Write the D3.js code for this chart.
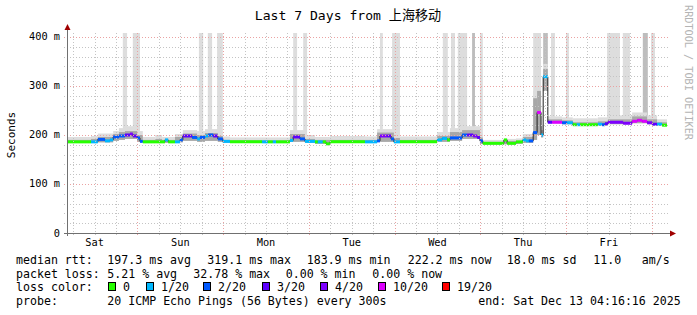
<!doctype html>
<html>
<head>
<meta charset="utf-8">
<title>SmokePing :: Last 7 Days</title>
<script src="https://d3js.org/d3.v7.min.js"></script>
<style>
  body { margin: 0; background: #fff; }
  svg { display: block; }
  text { font-family: "DejaVu Sans Mono", "Noto Sans CJK SC", monospace; fill: #000; }
</style>
</head>
<body>
<svg id="chart" width="697" height="315"></svg>
<script>
// hours counted from Sat 2025-12-06 00:00, graph ends Sat Dec 13 04:16:16
const startHour = 4.2711, endHour = 172.2711;

// median rtt (ms) and lost pings (of 20), one entry per step of the graph
const medStart = [4.3,11.0,12.9,14.9,16.3,17.2,18.8,20.5,21.9,22.7,
  23.9,24.7,25.5,31.7,32.6,34.5,35.9,36.7,39.3,40.7,
  41.5,42.9,43.8,45.2,46.5,47.9,49.9,58.9,60.5,61.9,
  62.8,66.7,67.6,69.5,70.9,73.7,74.5,75.9,76.8,77.9,
  87.7,91.1,91.9,93.9,95.0,95.8,97.5,107.9,109.3,110.7,
  111.5,114.9,116.3,118.0,119.1,119.9,120.7,126.6,127.5,130.0,
  131.9,132.8,133.6,134.8,135.9,137.0,137.6,138.9,140.1,142.9,
  144.3,145.9,147.0,147.9,152.9,154.1,154.9,155.7,160.0,162.5,
  163.9,165.3,166.7,168.1,169.5,170.9];
const medValue = [186,186,191,188,190,196,198,200,202,198,
  194,187,186,190,186,186,190,198,195,192,
  195,198,200,198,192,187,186,186,186,186,
  186,189,196,192,187,186,186,186,182,186,
  186,188,198,198,192,186,186,190,193,190,
  194,200,200,198,195,188,183,190,183,186,
  190,188,188,205,246,200,319,226,226,225,
  225,221,221,221,222,221,223,226,224,228,
  230,228,225,222,222,220];
const medLoss = [0,1,2,1,1,2,2,3,4,3,
  2,2,0,1,0,1,2,3,2,1,
  2,1,2,3,2,1,0,1,0,1,
  0,1,3,2,1,0,1,0,0,0,
  1,2,4,3,2,1,0,1,1,0,
  2,2,3,4,3,2,0,0,0,0,
  1,1,2,2,10,1,1,3,10,2,
  1,0,1,0,1,2,3,4,4,10,
  10,10,4,3,1,0];

// smoke (ms): bottom, inner band top, outer band top
const smokeStart = [4.3,11.0,12.9,17.2,18.8,20.5,23.9,25.5,29.0,30.9,
  34.5,36.7,40.7,42.9,46.5,47.9,49.9,66.7,70.9,73.7,
  77.9,87.7,91.1,95.8,97.5,107.9,111.5,114.9,119.9,120.7,
  126.6,130.0,131.9,134.8,135.9,137.0,137.6,138.9,142.9,145.9,
  152.9,155.7,162.5,166.7,169.5];
const smokeLo = [184,184,185,188,190,192,186,184,184,184,
  185,188,186,188,186,184,184,186,184,182,
  184,184,186,184,184,186,188,192,182,181,
  181,182,184,190,200,195,290,224,222,219,
  219,222,224,222,219];
const smokeMid = [190,192,196,202,206,208,200,190,192,190,
  196,203,200,204,198,190,189,202,192,190,
  190,190,205,194,190,198,206,210,195,186,
  188,188,196,275,290,210,335,232,230,226,
  228,232,238,232,226];
const smokeHi = [196,198,203,208,214,218,208,196,200,196,
  202,210,208,212,206,197,195,210,200,196,
  198,197,212,202,197,206,214,218,203,190,
  192,193,202,290,300,220,345,238,236,234,
  236,240,246,240,232];

// single very slow pings that run off the top of the graph
const spikeStart = [19.9,22.7,41.2,43.7,46.3,67.6,70.4,91.9,95.3,109.5,111.8,113.7,117.7,119.9,134.8,137.6,139.8,144.0,155.5,159.9,165.5,167.8];
const spikeEnd   = [21.1,24.7,42.4,44.9,47.9,68.7,71.5,92.7,97.5,110.9,112.9,116.3,118.5,120.7,137.0,138.9,140.9,144.8,159.1,161.9,166.9,168.9];
const spikeBase  = [205,200,205,205,200,205,195,205,200,200,205,210,210,195,200,340,230,230,232,232,232,232];
const spikeDark  = [0,0,0,0,0,0,0,0,0,0,0,0,1,0,0,1,0,0,0,0,1,0];

const dayLabels = ["Sat","Sun","Mon","Tue","Wed","Thu","Fri"];
const yTicks = [0,100,200,300,400];
const yTickLabels = ["0","100 m","200 m","300 m","400 m"];

const lossLevels = [0,1,2,3,4,10,19];
const lossLabels = ["0","1/20","2/20","3/20","4/20","10/20","19/20"];
const lossColors = ["#26ff00","#00b8ff","#0059ff","#5e00ff","#7e00ff","#dd00ff","#ff0000"];
const lossBoxX = [108,146,203,262,320,378,442];

const legendRtt  = [["median rtt:",16],["197.3 ms avg",107.3],["319.1 ms max",207.3],["183.9 ms min",306.7],["222.2 ms now",407.7],["18.0 ms sd",506.7],["11.0",593.3],["am/s",641.7]];
const legendLoss = [["packet loss:",16],["5.21 % avg",107.3],["32.78 % max",193.3],["0.00 % min",285.7],["0.00 % now",372.3]];
const legendProbe = [["probe:",16],["20 ICMP Echo Pings (56 Bytes) every 300s",107.3],["end: Sat Dec 13 04:16:16 2025",478.3]];

const pLeft = 67, pRight = 667, pTop = 33, pBottom = 233;
const x = d3.scaleLinear().domain([startHour, endHour]).range([pLeft, pRight]);
const y = d3.scaleLinear().domain([0, 408.16]).range([pBottom, pTop]);

const svg = d3.select("#chart");
svg.append("rect").attr("width", 697).attr("height", 315).attr("fill", "#fff");

svg.append("defs").append("clipPath").attr("id", "clip")
  .append("rect").attr("x", pLeft).attr("y", pTop).attr("width", pRight - pLeft).attr("height", pBottom - pTop);
const area = svg.append("g").attr("clip-path", "url(#clip)");

function segEnd(starts, i) { return i + 1 < starts.length ? starts[i + 1] : endHour; }

// tall spikes
area.selectAll("rect.spike").data(spikeStart).enter().append("rect")
  .attr("x", (d) => x(d)).attr("width", (d, i) => x(spikeEnd[i]) - x(d))
  .attr("y", pTop).attr("height", (d, i) => y(spikeBase[i]) - pTop)
  .attr("fill", (d, i) => spikeDark[i] ? "#bdbdbd" : "#dddddd");

// smoke
area.selectAll("rect.smoke").data(smokeStart).enter().append("rect")
  .attr("x", (d) => x(d)).attr("width", (d, i) => x(segEnd(smokeStart, i)) - x(d))
  .attr("y", (d, i) => y(smokeHi[i])).attr("height", (d, i) => y(smokeLo[i]) - y(smokeHi[i]))
  .attr("fill", "#dddddd");
area.selectAll("rect.smokemid").data(smokeStart).enter().append("rect")
  .attr("x", (d) => x(d)).attr("width", (d, i) => x(segEnd(smokeStart, i)) - x(d))
  .attr("y", (d, i) => y(smokeMid[i])).attr("height", (d, i) => y(smokeLo[i]) - y(smokeMid[i]))
  .attr("fill", "#a8a8a8");

// grid
const grid = svg.append("g").attr("shape-rendering", "crispEdges");
const hMinor = d3.range(20, 408, 20);
grid.selectAll("line.h").data(hMinor).enter().append("line")
  .attr("x1", pLeft - 3).attr("x2", pRight + 2)
  .attr("y1", (d) => Math.round(y(d)) + 0.5).attr("y2", (d) => Math.round(y(d)) + 0.5)
  .attr("stroke", (d) => d % 100 === 0 ? "#eaa2a2" : "#c4c4c4")
  .attr("stroke-dasharray", "1,2");
const vLines = d3.range(6, 172, 6).filter((h) => h > startHour);
grid.selectAll("line.v").data(vLines).enter().append("line")
  .attr("x1", (d) => Math.round(x(d)) + 0.5).attr("x2", (d) => Math.round(x(d)) + 0.5)
  .attr("y1", pTop).attr("y2", pBottom + 3)
  .attr("stroke", (d) => d % 24 === 0 ? "#eaa2a2" : "#c4c4c4")
  .attr("stroke-dasharray", "1,2");

// median line
const lossColor = (l) => lossColors[d3.bisectRight(lossLevels, l) - 1];
const medPts = medStart.map((s, i) => [s, medValue[i]]).concat([[endHour, medValue[medValue.length - 1]]]);
area.append("path")
  .attr("d", d3.line().x((d) => x(d[0])).y((d) => y(d[1])).curve(d3.curveStepAfter)(medPts))
  .attr("fill", "none").attr("stroke", "#202020").attr("stroke-width", 1);
area.selectAll("line.med").data(medStart).enter().append("line")
  .attr("x1", (d) => x(d)).attr("x2", (d, i) => x(segEnd(medStart, i)))
  .attr("y1", (d, i) => y(medValue[i])).attr("y2", (d, i) => y(medValue[i]))
  .attr("stroke", (d, i) => lossColor(medLoss[i])).attr("stroke-width", 3);

// axes
const axis = svg.append("g").attr("shape-rendering", "crispEdges");
axis.append("line").attr("x1", pLeft + 0.5).attr("x2", pLeft + 0.5).attr("y1", pBottom + 3).attr("y2", pTop - 4).attr("stroke", "#707070");
axis.append("line").attr("x1", pLeft - 3).attr("x2", pRight + 4).attr("y1", pBottom + 0.5).attr("y2", pBottom + 0.5).attr("stroke", "#707070");
svg.append("path").attr("d", `M${pLeft - 2.5},${pTop - 3}L${pLeft + 3.5},${pTop - 3}L${pLeft + 0.5},${pTop - 9}Z`).attr("fill", "#a00000");
svg.append("path").attr("d", `M${pRight + 3},${pBottom - 2.5}L${pRight + 3},${pBottom + 3.5}L${pRight + 9},${pBottom + 0.5}Z`).attr("fill", "#a00000");

svg.selectAll("text.ytick").data(yTicks).enter().append("text")
  .attr("x", 60).attr("y", (d) => y(d) + 3.5).attr("text-anchor", "end")
  .style("font-size", "10.3px").text((d, i) => yTickLabels[i]);
svg.selectAll("text.day").data(dayLabels).enter().append("text")
  .attr("x", (d, i) => x(i * 24 + 12)).attr("y", 245.5).attr("text-anchor", "middle")
  .style("font-size", "10.3px").text((d) => d);

svg.append("text").attr("transform", "translate(15,135) rotate(-90)").attr("text-anchor", "middle")
  .style("font-size", "11px").text("Seconds");
svg.append("text").attr("x", 348).attr("y", 19.5).attr("text-anchor", "middle")
  .style("font-size", "13.1px").text("Last 7 Days from 上海移动");
svg.append("text").attr("transform", "translate(685,5) rotate(90)")
  .style("font-size", "10.2px").style("fill", "#b4b4b4").text("RRDTOOL / TOBI OETIKER");

// legend
const leg = svg.append("g").style("font-size", "11.6px").attr("xml:space", "preserve");
function legendLine(items, yy) {
  leg.selectAll(null).data(items).enter().append("text")
    .attr("x", (d) => d[1]).attr("y", yy).text((d) => d[0]);
}
legendLine(legendRtt, 263.5);
legendLine(legendLoss, 277.5);
leg.append("text").attr("x", 16).attr("y", 291.2).text("loss color:");
leg.selectAll("rect.box").data(lossColors).enter().append("rect")
  .attr("x", (d, i) => lossBoxX[i] + 0.5).attr("y", 282.5).attr("width", 7).attr("height", 8)
  .attr("fill", (d) => d).attr("stroke", "#000").attr("stroke-width", 1);
leg.selectAll("text.box").data(lossLabels).enter().append("text")
  .attr("x", (d, i) => lossBoxX[i] + 15).attr("y", 291.2).text((d) => d);
legendLine(legendProbe, 305);
</script>
</body>
</html>
